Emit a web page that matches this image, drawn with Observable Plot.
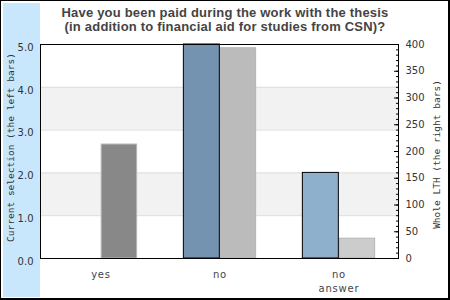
<!DOCTYPE html>
<html>
<head>
<meta charset="utf-8">
<script src="https://cdn.jsdelivr.net/npm/d3@7"></script>
<script src="https://cdn.jsdelivr.net/npm/@observablehq/plot@0.6"></script>
<style>
  html, body { margin: 0; padding: 0; background: #fff; }
  #wrap { position: relative; width: 450px; height: 300px; overflow: hidden; }
  #strip { position: absolute; left: 3px; top: 3px; width: 37px; height: 294px; background: #c9e7fc; }
  #title { position: absolute; top: 6px; left: 0; width: 450px; text-align: center;
           font: bold 13px "Liberation Sans", Arial, sans-serif; line-height: 14px; color: #444; letter-spacing: 0.2px; }
  #chart { position: absolute; left: 0; top: 0; }
  #border { position: absolute; left: 0; top: 0; right: 0; bottom: 0; box-sizing: border-box;
            border: 1px solid #000; border-right-width: 2px; border-bottom-width: 2px; pointer-events: none; }
</style>
</head>
<body>
<div id="wrap">
  <div id="strip"></div>
  <div id="title"></div>
  <div id="chart"></div>
  <div id="border"></div>
</div>
<script>
// ---- data ----
const titleLines = ["Have you been paid during the work with the thesis",
                    "(in addition to financial aid for studies from CSN)?"];
const categories = ["yes", "no", "no answer"];
const currentSelection = [0, 5.0, 2.0];        // left axis (0–5)
const wholeLTH = [213, 393, 37];                // right axis (0–400)
const selectionColors = ["#6f8fab", "#7393b0", "#8fb0cc"];
const lthColors = ["#888888", "#bbbbbb", "#cccccc"];
const leftTicks = [0, 1, 2, 3, 4, 5];
const rightTicks = [0, 50, 100, 150, 200, 250, 300, 350, 400];
const rightMinorTicks = d3.range(0, 401, 10);
const shadedBands = [[1, 2], [3, 4]];
const gridLines = [1, 2, 3, 4];
const leftTitle = "Current selection (the left bars)";
const rightTitle = "Whole LTH (the right bars)";
const leftMax = 5, rightMax = 400;
const k = rightMax / leftMax;

document.getElementById("title").innerHTML = titleLines.join("<br>");

const selRows = categories.map((c, i) => ({cat: c, v: currentSelection[i], color: selectionColors[i]})).filter(d => d.v > 0);
const lthRows = categories.map((c, i) => ({cat: c, v: wholeLTH[i] / k, color: lthColors[i]}));
const bandRows = shadedBands.map(([a, b]) => ({y1: a, y2: b}));

const W = 450, H = 300, mL = 40, mR = 52, mT = 44, mB = 42;
const bw = (W - mL - mR) / categories.length;
const barW = 36.3;

const chart = Plot.plot({
  width: W, height: H,
  marginLeft: mL, marginRight: mR, marginTop: mT, marginBottom: mB,
  style: {background: "transparent", fontFamily: "DejaVu Sans", fontSize: "10px", color: "#333", overflow: "visible"},
  x: {type: "band", domain: categories, padding: 0, axis: null},
  y: {domain: [0, leftMax], axis: null},
  marks: [
    Plot.rect(bandRows, {y1: "y1", y2: "y2", fill: "#f2f2f2"}),
    Plot.ruleY(gridLines, {stroke: "#dcdcdc"}),
    Plot.barY(lthRows, {x: "cat", y: "v", fill: "color", stroke: "#b4b4b4", strokeWidth: 1,
      insetLeft: bw / 2 + 0.5, insetRight: bw / 2 - barW}),
    Plot.barY(selRows, {x: "cat", y: "v", fill: "color", stroke: "#000", strokeWidth: 1,
      insetLeft: bw / 2 - barW, insetRight: bw / 2}),
    Plot.frame({stroke: "#000"}),
    // left axis labels
    Plot.axisY(leftTicks, {anchor: "left", tickSize: 0, tickPadding: 7, dy: 3,
      tickFormat: d => d.toFixed(1), label: null, fill: "#333"}),
    // right axis ticks (inward)
    Plot.axisY(rightMinorTicks.map(v => v / k), {anchor: "right", tickSize: 3, insetRight: 3,
      tickFormat: () => "", label: null, stroke: "#000"}),
    Plot.axisY(rightTicks.map(v => v / k), {anchor: "right", tickSize: 5, insetRight: 5,
      tickFormat: () => "", label: null, stroke: "#000"}),
    Plot.axisY(rightTicks.map(v => v / k), {anchor: "right", tickSize: 0, tickPadding: 7,
      tickFormat: d => String(Math.round(d * k)), label: null, fill: "#333"}),
    // category labels
    Plot.axisX(categories, {anchor: "bottom", tickSize: 0, tickPadding: 10, lineHeight: 1.35,
      tickFormat: d => d.replace(" ", "\n"), label: null, fill: "#444"}),
    // axis titles
    Plot.text([leftTitle], {text: d => d, frameAnchor: "left", rotate: -90, dx: -30, dy: -4,
      textAnchor: "middle", lineAnchor: "middle",
      fontFamily: "DejaVu Sans Mono", fontSize: 9.5, fill: "#333"}),
    Plot.text([rightTitle], {text: d => d, frameAnchor: "right", rotate: -90, dx: 38, dy: 3,
      textAnchor: "middle", lineAnchor: "middle",
      fontFamily: "DejaVu Sans Mono", fontSize: 9.5, fill: "#333"})
  ]
});
document.getElementById("chart").appendChild(chart);
d3.select(chart).selectAll('[aria-label="x-axis tick label"] text').style("letter-spacing", "0.8px");
</script>
</body>
</html>
